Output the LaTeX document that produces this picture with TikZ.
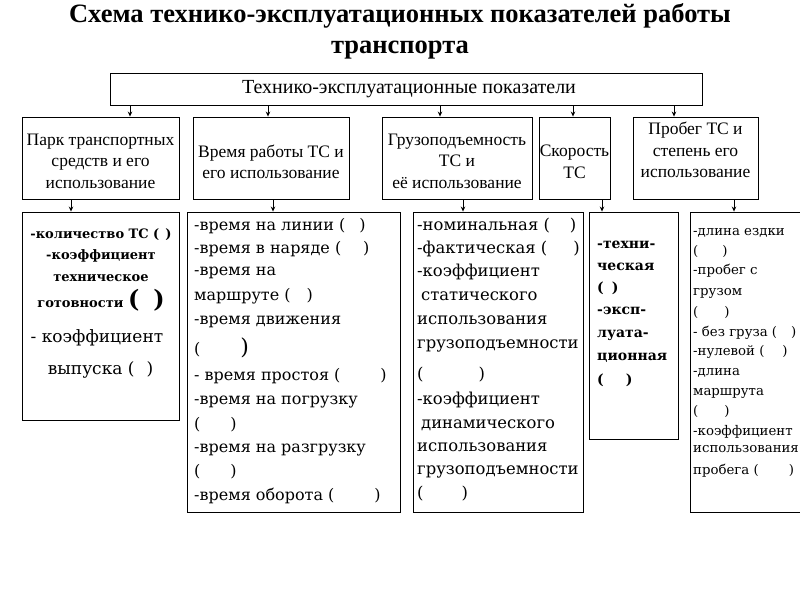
\documentclass[tikz,border=0pt]{standalone}
\usepackage{fontspec}
\setmainfont{Liberation Serif}
\newfontfamily\dvs{DejaVu Serif}
\usetikzlibrary{arrows.meta}
\begin{document}
\begin{tikzpicture}[x=1pt,y=-1pt,
  box/.style={draw,line width=0.9pt,inner sep=0pt},
  arr/.style={-{Stealth[length=5pt,width=4.5pt]},line width=0.8pt},
  ctext/.style={inner sep=0pt,align=center,anchor=mid},
  mtext/.style={inner sep=0pt,align=center,anchor=center},
  ltext/.style={inner sep=0pt,anchor=mid west},
  f17/.style={font=\fontsize{17.5}{21.5}\selectfont},
  fB/.style={font=\dvs\fontsize{16}{19}\selectfont},
  fC/.style={font=\dvs\fontsize{16.4}{19}\selectfont},
  fA/.style={font=\dvs\bfseries\fontsize{13}{16}\selectfont},
  fD/.style={font=\dvs\bfseries\fontsize{14}{17}\selectfont},
  fE/.style={font=\dvs\fontsize{13.3}{16}\selectfont}]
\clip (0,0) rectangle (800,600);
\fill[white] (0,0) rectangle (800,600);
% title
\node[ctext,font=\bfseries\fontsize{26.5}{30}\selectfont] (t1) at (400,20) {Схема технико-эксплуатационных показателей работы};
\node[ctext,font=\bfseries\fontsize{26.5}{30}\selectfont] (t2) at (400,51) {транспорта};
% top box
\node[box,minimum width=592,minimum height=32] (top) at (406,89) {};
\node[ctext,font=\fontsize{20}{23}\selectfont] (toptx) at (409,91) {Технико-эксплуатационные показатели};
% row 2 boxes
\node[box,minimum width=157,minimum height=82] (b1) at (100.5,158) {};
\node[box,minimum width=156,minimum height=82] (b2) at (271,158) {};
\node[box,minimum width=150,minimum height=82] (b3) at (457,158) {};
\node[box,minimum width=71,minimum height=82] (b4) at (574.5,158) {};
\node[box,minimum width=125,minimum height=82] (b5) at (695.5,158) {};
\node[mtext,f17] (b1t) at (100.5,161) {Парк транспортных\\средств и его\\использование};
\node[mtext,f17] (b2t) at (271,162) {Время работы ТС и\\его использование};
\node[mtext,f17] (b3t) at (457,161) {Грузоподъемность\\ТС и\\её использование};
\node[mtext,f17] (b4t) at (574.5,162) {Скорость\\ТС};
\node[mtext,f17] (b5t) at (695.5,150) {Пробег ТС и\\степень его\\использование};
% row 3 boxes
\node[box,minimum width=157,minimum height=208] (ca) at (100.5,316) {};
\node[box,minimum width=213,minimum height=300] (cb) at (293.5,362) {};
\node[box,minimum width=170,minimum height=300] (cc) at (498,362) {};
\node[box,minimum width=89,minimum height=227] (cd) at (633.5,325.5) {};
\node[box,minimum width=130,minimum height=300] (ce) at (755,362) {};
% connectors top -> row 2
\foreach \n/\xx in {b1/130,b2/268,b3/440,b4/573,b5/674}{
  \coordinate (k\n) at (\xx,0);
  \draw[arr] (top.south -| k\n) -- (\n.north -| k\n);
}
% connectors row 2 -> row 3
\foreach \s/\d/\xx in {b1/ca/71,b2/cb/273,b3/cc/463,b4/cd/602,b5/ce/734}{
  \coordinate (m\d) at (\xx,0);
  \draw[arr] (\s.south -| m\d) -- (\d.north -| m\d);
}
% box A
\node[ctext,fA] (a1) at (101,236) {-количество ТС (\hspace{6pt})};
\node[ctext,fA] (a2) at (101,257) {-коэффициент};
\node[ctext,fA] (a3) at (101,279) {техническое};
\node[ctext,fA] (a4) at (101,305) {готовности {\fontsize{24}{24}\selectfont(\hspace{14pt})}};
\node[ctext,font=\dvs\fontsize{17}{20}\selectfont] (a5) at (97,340) {- коэффициент};
\node[ctext,font=\dvs\fontsize{17}{20}\selectfont] (a6) at (100.5,372) {выпуска (\hspace{12pt})};
% box B
\foreach \yy/\tx [count=\i] in {
  228/{-время на линии (\hspace{14pt})},
  251/{-время в наряде (\hspace{22pt})},
  273/{-время на},
  298/{маршруте (\hspace{16pt})},
  322/{-время движения},
  352/{(\hspace{40pt}{\fontsize{22}{22}\selectfont)}},
  378/{- время простоя (\hspace{40pt})},
  402/{-время на погрузку},
  427/{(\hspace{30pt})},
  450/{-время на разгрузку},
  474/{(\hspace{30pt})},
  498/{-время оборота (\hspace{40pt})}}{
  \node[ltext,fB] (bl\i) at (194,\yy) {\tx};
}
% box C
\foreach \yy/\tx [count=\i] in {
  228/{-номинальная (\hspace{20pt})},
  251/{-фактическая (\hspace{26pt})},
  274/{-коэффициент},
  298/{\hspace{4pt}статического},
  322/{использования},
  346/{грузоподъемности},
  377/{(\hspace{55pt})},
  402/{-коэффициент},
  426/{\hspace{4pt}динамического},
  449/{использования},
  472/{грузоподъемности},
  496/{(\hspace{38pt})}}{
  \node[ltext,fC] (cl\i) at (417,\yy) {\tx};
}
% box D
\foreach \yy/\tx [count=\i] in {
  246/{-техни-},
  268/{ческая},
  290/{(\hspace{8pt})},
  312/{-эксп-},
  335/{луата-},
  358/{ционная},
  382/{(\hspace{22pt})}}{
  \node[ltext,fD] (dl\i) at (597,\yy) {\tx};
}
% box E
\foreach \yy/\tx [count=\i] in {
  233/{-длина ездки},
  253/{(\hspace{24pt})},
  272/{-пробег с},
  293/{грузом},
  314/{(\hspace{26pt})},
  334/{- без груза (\hspace{14pt})},
  353/{-нулевой (\hspace{18pt})},
  373/{-длина},
  393/{маршрута},
  413/{(\hspace{26pt})},
  433/{-коэффициент},
  450/{использования},
  472/{пробега (\hspace{30pt})}}{
  \node[ltext,fE] (el\i) at (693,\yy) {\tx};
}
\end{tikzpicture}
\end{document}
